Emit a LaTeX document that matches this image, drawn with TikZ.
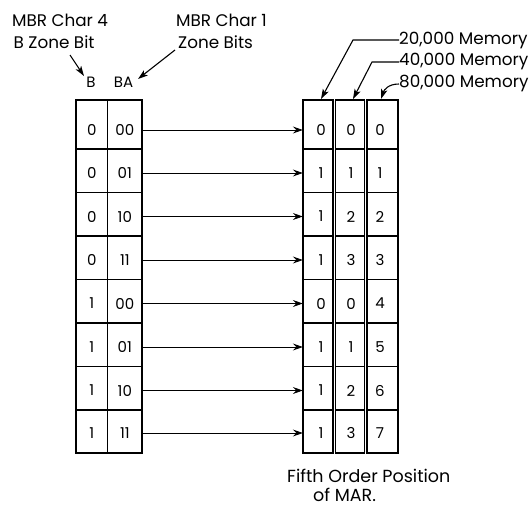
\documentclass[tikz,border=0pt]{standalone}
\usepackage{fontspec}
\setmainfont{Poppins}
\usetikzlibrary{arrows.meta}
\begin{document}
\begin{tikzpicture}[x=1pt,y=-1pt,
  frame/.style={line width=1.3pt},
  grid/.style={line width=1.1pt},
  divline/.style={line width=0.8pt},
  cellL/.style={inner sep=0pt,minimum height=43.5pt,font=\fontsize{15}{17}\selectfont},
  cellR/.style={inner sep=0pt,minimum height=43.5pt,font=\fontsize{15}{17}\selectfont},
  lab/.style={inner sep=0pt,anchor=west,font=\fontsize{16.8}{19}\selectfont},
  rowarr/.style={line width=0.8pt,-{Stealth[length=10pt,width=7pt,inset=3.5pt]}},
  labarr/.style={line width=1.1pt,-{Stealth[length=10pt,width=6.5pt,inset=2.5pt]}}]
\useasboundingbox (0,0) rectangle (529,508);

% left table frame
\draw[frame] (76,100) rectangle (142,453);
\draw[divline] (107.7,100) -- (107.7,453);
\foreach \y in {149,192.5,236,279.5,323,366.5,410}
  \draw[grid] (76,\y) -- (142,\y);

% right table frames (three columns)
\draw[frame] (303,100) rectangle (333,453);
\draw[frame] (335.5,100) rectangle (364.5,453);
\draw[frame] (367,100) rectangle (398,453);
\foreach \y in {149,192.5,236,279.5,323,366.5,410}{
  \draw[grid] (303,\y) -- (333,\y);
  \draw[grid] (335.5,\y) -- (364.5,\y);
  \draw[grid] (367,\y) -- (398,\y);
}

% cells
\foreach \i/\y/\b/\ba/\p/\q/\r in {1/130/0/00/0/0/0, 2/173/0/01/1/1/1, 3/216.5/0/10/1/2/2, 4/260/0/11/1/3/3,
  5/303.5/1/00/0/0/4, 6/347/1/01/1/1/5, 7/390.5/1/10/1/2/6, 8/433/1/11/1/3/7}{
  \node[cellL,minimum width=31.7pt] (b\i) at (91.85,\y) {\b};
  \node[cellL,minimum width=34.3pt] (ba\i) at (124.85,\y) {\ba};
  \node[cellR,minimum width=30pt] (m\i) at (318,\y) {\hspace*{6pt}\p};
  \node[cellR,minimum width=29pt] (n\i) at (350,\y) {\hspace*{2pt}\q};
  \node[cellR,minimum width=31pt] (o\i) at (382.5,\y) {\hspace*{-5pt}\r};
  \draw[rowarr] (ba\i.east) -- (m\i.west);
}

% column headers
\node[inner sep=0pt,font=\fontsize{15}{17}\selectfont] (hB) at (91,82) {B};
\node[inner sep=0pt,font=\fontsize{15}{17}\selectfont] (hBA) at (123.5,82) {BA};

% top-left labels
\node[lab] (l4a) at (12,20) {MBR Char 4};
\node[lab] (l4b) at (13.5,42) {B Zone Bit};
\node[lab] (l1a) at (176,20) {MBR Char 1};
\node[lab] (l1b) at (178,42) {Zone Bits};
\coordinate (s4) at (70,55);
\coordinate (s1) at (175,50);
\draw[labarr] (s4) -- (84,76);
\draw[labarr] (s1) -- (138,79);

% memory labels
\node[lab] (m20) at (399,40) {20,000 Memory};
\node[lab] (m40) at (399,62) {40,000 Memory};
\node[lab] (m80) at (399,84) {80,000 Memory};
\draw[labarr] (m20.west) -- (353,40) -- (321,99);
\draw[labarr] (m40.west) -- (372,62) -- (353,99);
\draw[labarr] (m80.west) .. controls (388,84) and (384,90) .. (381,99);

% bottom caption
\node[lab,font=\fontsize{17.5}{20}\selectfont] (c1) at (287,476) {Fifth Order Position};
\node[lab,font=\fontsize{17.5}{20}\selectfont] (c2) at (313,495) {of MAR.};
\end{tikzpicture}
\end{document}
